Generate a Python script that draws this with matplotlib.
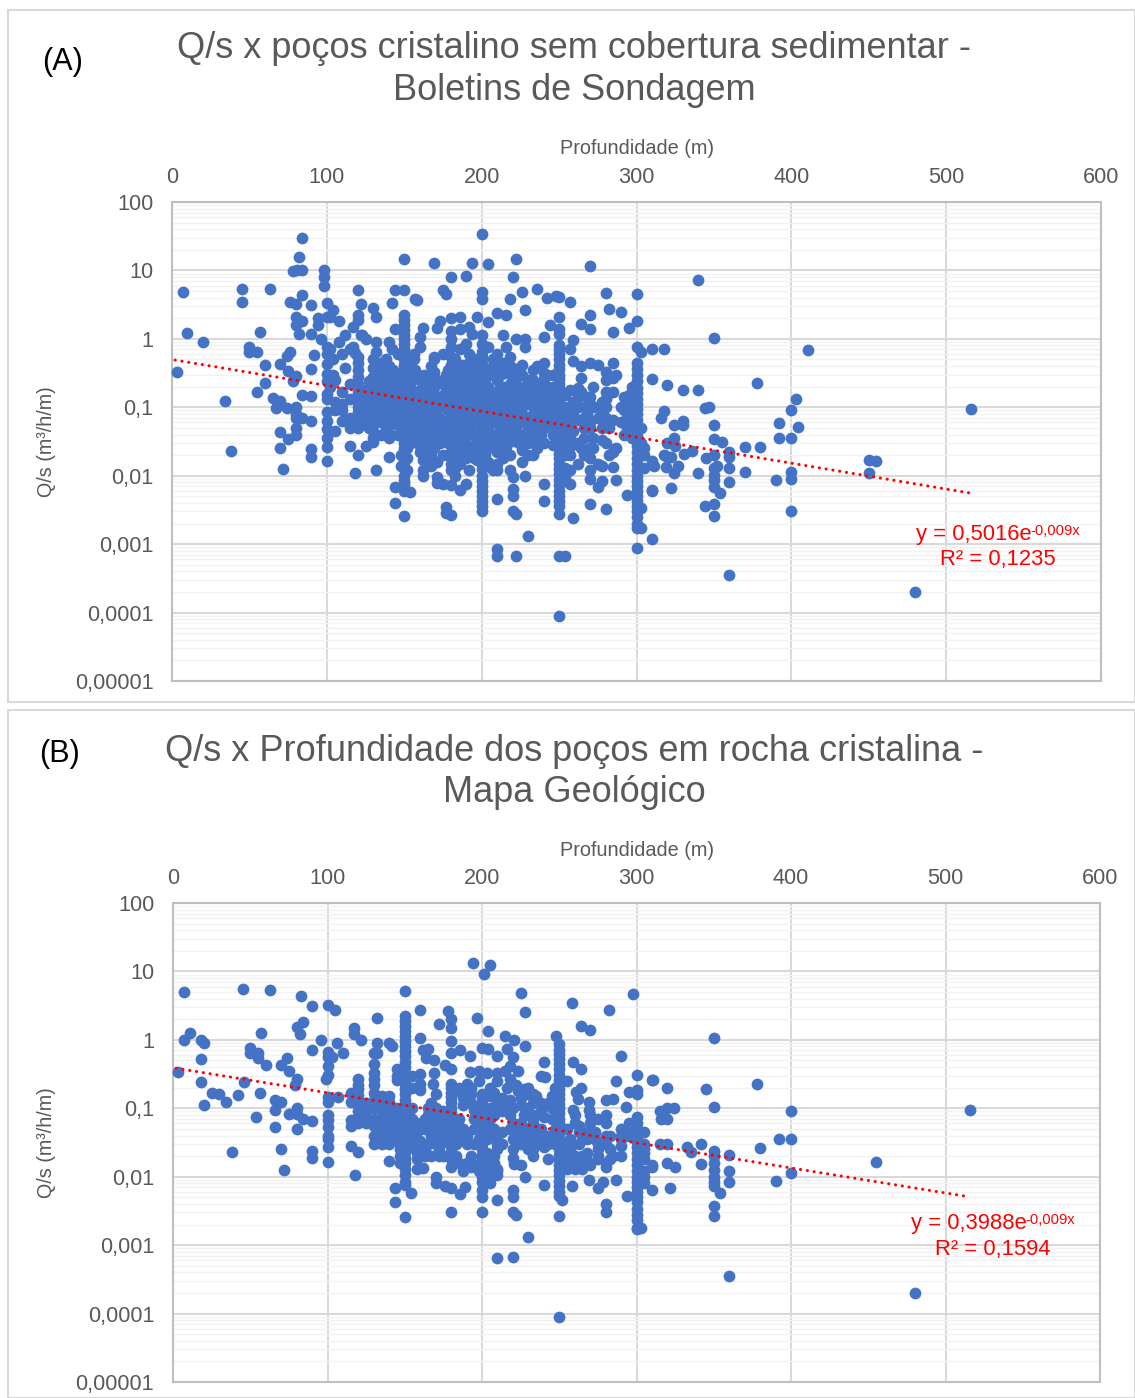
#!/usr/bin/python
# -*- coding: utf-8 -*-
"""Q/s x profundidade, two scatter panels on a log axis"""
import matplotlib
matplotlib.use('Agg')
import matplotlib.pyplot as plt
from matplotlib.patches import Rectangle
from matplotlib.ticker import FixedLocator, FixedFormatter, NullFormatter

W, H = 1135, 1398

# values: (depth, [Q/s at that depth])
wells_a = [
    (3, [.33]), (7, [4.9]), (10, [1.2]), (20, [.91]), (34, [.124]), (38, [.023]), (45, [5.4, 3.4]),
    (50, [.76, .64]), (55, [.65, .17]), (57, [1.25]), (60, [.42, .23]), (63, [5.4]), (65, [.137]),
    (67, [.098]), (70, [.43, .123, .043, .025]), (72, [.0125]), (74, [.56, .098]), (76, [.64, 3.4]),
    (75, [.34, .034]), (78, [.245, 9.7]), (80, [3.2, 2.08, 1.57, .29, .1, .08, .07, .05, .039]),
    (82, [15.8, 1.18]), (84, [30, 4.4, 10, 1.8, .15, .07]), (81, [10.2]), (90, [3.1, 1.18, .36, .148, .064, .0245, .0186]),
    (92, [.59]), (94, [2, 1.6]), (96, [1]), (98, [10, 8, 6]),
    (100, [3.3, 2.1, .75, .6, .43, .31, .24, .155, .13, .085, .064, .048, .036, .026, .0165]),
    (102, [2.1, .7, .2]), (104, [2.65, .51, .3]), (105, [.12, .09, .045, .25]), (108, [1.85, .9]),
    (110, [.6, .17, .11, .09, .063]), (112, [1.12, .37, .065]), (115, [.22, .13, .07, .05, .027, .7]),
    (117, [1.5, .75]), (118, [.011, .62]),
    (120, [5.1, 2.2, 1.9, .55, .45, .35, .28, .22, .17, .14, .12, .1, .085, .07, .06, .05, .02]),
    (122, [3.2, 1.15]), (123, [1.15]), (125, [1, .18, .14, .11, .09, .07, .06, .027]), (127, [.24, .16, .08, .05]),
    (130, [2.85, .5, .38, .28, .2, .15, .12, .09, .07, .055, .045, .036, .031]), (132, [2.1, .91, .012, .65]),
    (135, [.45, .33, .25, .18, .13, .1, .08, .06, .04]), (138, [.5, .2, .15, .11, .07, .05]),
    (140, [.9, .4, .3, .24, .19, .15, .12, .09, .07, .055, .042, .035, .019]),
    (142, [3.3, .7]), (143, [.35, .25, .13, .09, .065]), (144, [5.1, 1.4, .0069, .004]), (146, [.6, .3, .22, .16, .11, .08, .055, .04]),
    (148, [.17, .13, .09, .06, .045, .02, .014]),
    (150, [14.7, 5.1, 2.2, 1.9, 1.6, 1.35, 1.15, 1, .85, .72, .6, .5, .42, .35, .3, .25, .21, .18, .15, .12, .1, .085, .07, .06,
           .05, .042, .035, .03, .025, .02, .016, .013, .01, .0085, .0075, .006, .0026]),
    (152, [.4, .27, .19, .14, .1, .07, .05, .035, .025, .018, .012]), (154, [.0058, .45, .33, .22, .16, .12, .09, .07, .05, .038, .03]),
    (156, [.6, .5, .12, .09, .065, .045]), (157, [3.8, .35, .27, .16]), (158, [3.7, .055, .04, .03]),
    (160, [1.06, .75, .25, .18, .13, .1, .075, .055, .04, .022]), (162, [1.45, .017, .012, .01]),
    (163, [.3, .2, .14, .1, .075, .05, .035, .025, .018]), (165, [.21, .16, .12, .09, .065, .05, .03]),
    (167, [.4, .28, .18, .13, .09, .06, .04, .03, .02, .014]),
    (169, [13, .55, .5, .33, .2, .15, .11, .08, .06, .045, .035, .025]), (171, [1.45, .25, .12, .016, .0095, .0078]),
    (173, [1.8, .1, .07, .05, .03]), (175, [5.2, .6, .22, .15, .04, .02, .0075]), (177, [4.5, .3, .0035, .0029]),
    (178, [.35, .17, .12, .09, .06, .04, .03, .02]),
    (180, [8.1, 2, 1.3, 1, .75, .55, .42, .32, .25, .19, .14, .11, .09, .07, .055, .045, .035, .028, .022, .015, .012, .0072, .0027]),
    (183, [.5, .3, .2, .15, .11, .08, .06, .045, .03, .02, .013, .01]),
    (186, [2.1, 1.4, .7, .4, .3, .22, .16, .12, .09, .07, .05, .035, .022, .015, .0062]), (188, [.42, .26, .1, .06, .04, .025]),
    (190, [8.4, .85, .35, .25, .18, .13, .1, .08, .05, .03, .018, .0075]), (192, [1.5, .6, .45, .042, .025, .012]),
    (194, [13, 1.18, .33, .2, .14, .1, .07, .055]), (195, [.5, .22, .16, .09, .065, .04, .025, .018]),
    (197, [2.1, .4, .28, .16, .12, .08, .06, .03, .017]),
    (200, [34, 4.8, 3.8, 1.12, .85, .65, .55, .45, .37, .3, .25, .21, .17, .14, .12, .1, .085, .07, .06, .05, .042, .036, .03, .025,
           .021, .018, .015, .0125, .01, .0085, .007, .006, .005, .0042, .0036, .003]),
    (202, [.35, .26, .15, .11, .08, .055, .04, .03, .02]),
    (204, [12.5, 1.75, .75, .3, .2, .15, .1, .07, .05, .025, .016]), (207, [.5, .4, .12, .09, .06, .04, .03, .012]),
    (210, [2.4, .6, .35, .25, .17, .08, .035, .022, .015, .012, .0045, .00085, .00068]), (212, [.3, .2, .14, .1, .07, .05, .035, .025]),
    (214, [1.15, .45, .2, .14, .1, .07, .05, .03, .018]),
    (216, [2.2, .75, .32, .11, .08, .04, .026]), (218, [3.8, .55, .4, .22, .16, .06, .02, .012]),
    (220, [8.1, .38, .28, .19, .13, .09, .045, .032, .0095, .0063, .005, .003]), (222, [14.6, 1, .22, .12, .07, .05, .0028, .00068]),
    (224, [.3, .2, .14, .09, .06, .04, .03]),
    (226, [4.9, .42, .3, .16, .1, .08, .04, .024, .016]), (228, [2.6, 1, .75, .2, .13, .06, .035, .0098]),
    (230, [.25, .18, .11, .07, .05, .03, .02, .0013]), (233, [.35, .25, .16, .11, .08, .05, .035, .02]),
    (236, [5.3, .4, .22, .14, .09, .06, .04, .025]), (238, [.2, .13, .09, .06, .04, .03]),
    (240, [1.06, .45, .32, .26, .17, .1, .075, .05, .03, .0075, .0042]), (242, [3.9, .3, .2, .12, .08]), (244, [1.57, .15, .1, .065]),
    (246, [.3, .2, .12, .08, .055, .04, .028]), (248, [4.3, .11, .085]),
    (250, [4.1, 2.1, 1.4, 1.18, .8, .7, .6, .5, .42, .36, .3, .26, .22, .19, .16, .135, .115, .1, .085, .07, .06, .05, .042, .036, .03,
           .025, .021, .018, .015, .0125, .0105, .0088, .0073, .006, .005, .0042, .0036, .0028, .00068, .00009]),
    (252, [.1, .07, .05, .03, .02]),
    (254, [.00068, .15, .1, .07, .05, .035, .02, .013, .01]), (257, [3.4, .7, .18, .09, .06, .035, .026, .02, .012, .0075]),
    (259, [.95, .47, .12, .08, .045, .0024]), (262, [.19, .14, .1, .065, .03, .015]), (264, [1.65, .4, .27, .17, .025]),
    (266, [.1, .07, .05, .035, .02]), (268, [.14, .1, .08]), (270, [11.8, 2.2, 1.4, .45, .14, .11, .06, .05, .025, .018, .012, .009, .0038]),
    (272, [.2, .1, .035, .025]),
    (275, [.42, .1, .07, .015, .0068]), (278, [.12, .08, .05, .033, .014, .0085]), (280, [4.7, .33, .25, .17, .13, .1, .07, .03, .0033]),
    (282, [2.75, .16, .05, .02]), (285, [1.25, .45, .27, .17, .065, .022, .0135]), (287, [.3, .025, .0088]), (290, [2.45, .1, .06]),
    (292, [.14, .09, .06, .04]), (294, [.1, .07, .05, .0052]), (295, [1.45, .15]), (297, [.2, .12, .08, .055, .035]),
    (300, [4.5, 1.85, .75, .45, .36, .3, .24, .19, .16, .13, .11, .095, .08, .065, .055, .045, .038, .032, .027, .022, .018, .015, .012,
           .01, .0085, .007, .006, .005, .0042, .0036, .003, .0025, .002, .0017, .00088]),
    (303, [.65, .0017, .0034, .05, .03]), (305, [.02, .013, .025]), (310, [.7, .26, .0165, .0062, .006, .0012]), (311, [.0138]),
    (316, [.069]), (318, [.7, .087, .02]), (319, [.0195, .0135]), (320, [.21, .03]), (322, [.019, .0067]), (324, [.055, .035, .011]),
    (325, [.027]), (327, [.014]), (330, [.18, .064, .055]), (331, [.021]), (336, [.023]), (340, [7.2, .178, .011]),
    (344, [.097, .0036]), (345, [.018]), (347, [.102]), (350, [1.02, .055, .034, .02, .0128, .0102, .0086, .0069, .0039, .0026]),
    (352, [.0138]), (354, [.0056]), (355, [.031]), (360, [.022, .0186, .0128, .008, .00035]), (370, [.026, .0115]), (378, [.23]),
    (380, [.026]), (390, [.0086]), (392, [.059, .035]), (400, [.091, .035, .0115, .009, .003]), (403, [.13]), (404, [.052]),
    (411, [.68]), (450, [.017, .011]), (455, [.0164]), (480, [.0002]), (516, [.093]),
]
wells_b = [
    (3, [.34]), (7, [5, .98]), (11, [1.25]), (18, [1, .52, .24]), (20, [.9, .11]), (25, [.17]), (30, [.16]), (34, [.125]), (38, [.023]),
    (42, [.157]), (45, [5.5]), (46, [.24]), (50, [.75, .65]), (54, [.074]), (55, [.64, .54]), (56, [.17]), (57, [1.28]), (60, [.43]),
    (63, [5.4]), (66, [.13, .095, .054]), (70, [.43, .125, .025]), (72, [.0125]), (74, [.55]), (75, [.35, .082]), (79, [.22]),
    (80, [1.55, .27, .1, .082, .049]), (82, [1.2]), (83, [4.4]), (84, [1.8, .069]), (90, [3.1, .71, .066, .024, .0185]), (96, [1]),
    (99, [.27]), (100, [3.2, .67, .57, .41, .31, .148, .125, .08, .068, .054, .04, .036, .027, .0165]), (103, [.57]), (105, [2.75]),
    (106, [.9]), (107, [.148]), (110, [.65]), (115, [.165, .125, .068, .055, .028]), (117, [1.5, 1.2]), (118, [.0105]),
    (120, [.27, .22, .19, .155, .13, .11, .09, .075, .06, .023]), (122, [1]), (125, [.12, .09, .07, .06]),
    (130, [.65, .45, .33, .27, .22, .17, .13, .1, .07, .055, .04, .03]), (132, [2.1, .9, .64]), (135, [.07, .05, .15, .12, .09, .035, .03]),
    (138, [.05, .04]), (140, [.9, .15, .125, .1, .085, .07, .05, .038, .03, .017]), (142, [.8]), (143, [.06, .045]), (144, [.0068, .0042]),
    (145, [.38, .3, .26, .1, .08, .05, .033]), (147, [.06, .045, .035, .025, .02, .016]),
    (150, [5.2, 2.2, 1.9, 1.6, 1.35, 1.15, .95, .8, .68, .58, .48, .4, .33, .27, .23, .19, .16, .13, .11, .09, .075, .06, .05, .04, .034,
           .028, .023, .019, .016, .013, .0105, .0085, .0075, .0026]),
    (154, [.0058]), (155, [.3, .2, .1, .07, .05, .04, .03, .027]), (158, [.06, .045, .035, .022, .018, .013]),
    (160, [2.7, 1.08, .32, .23, .185, .05, .033, .028]), (162, [.72, .0135]), (163, [.07, .05, .025, .02]),
    (164, [.54]), (165, [.73, .1, .08, .06, .03]), (167, [.12, .06, .05, .04, .02]), (168, [.23]), (169, [.51, .33]),
    (170, [.16, .1, .08, .065, .052, .042, .03, .0098, .008]), (172, [1.7, .08, .06, .045, .035, .025, .02]),
    (175, [.09, .07, .05, .04, .032, .02]), (176, [.43, .0073]), (178, [2.6, .06, .045, .035]),
    (180, [2, 1.5, .97, .64, .38, .23, .2, .17, .145, .125, .1, .085, .07, .06, .05, .042, .035, .028, .023, .018, .014, .0069, .003]),
    (183, [.055, .04, .03, .02]), (185, [.2, .18, .07, .05, .016]), (186, [.7, .0056]), (188, [.14, .11, .05, .04, .012]), (189, [.0071]),
    (190, [.23, .19, .14, .04, .03, .016]), (192, [.59, .34]), (193, [.2, .16, .12, .02, .014]),
    (194, [13.3]), (195, [.095, .07, .05, .03, .015]), (197, [2.1]), (198, [.35, .25, .08, .05, .035, .012]),
    (200, [.75, .16, .135, .115, .1, .085, .07, .06, .05, .042, .036, .03, .025, .021, .018, .015, .0125, .01, .0085, .0065, .0051, .003]),
    (201, [9.3]), (203, [.33, .035, .022, .018, .014]), (204, [1.37, .74]), (205, [12.4, .2, .15, .1, .07, .05, .01, .008]),
    (208, [.17, .08, .05, .02, .016]), (210, [.59, .33, .25, .12, .09, .04, .03, .025, .013, .012, .0105, .0046, .00065]),
    (213, [.14, .09, .045, .03]), (215, [1.15, .35, .11]), (216, [.73, .2]),
    (218, [.41, .27, .13, .08, .05]), (220, [.57, .1, .06, .035, .025, .0185, .0064, .005, .003, .00068]), (221, [1, .0155]), (222, [.22, .0028]),
    (223, [.35, .18, .05, .04]), (225, [4.8, .14, .11, .06, .03, .015]), (227, [.19, .08, .045, .035]), (228, [2.55, .8, .0098]),
    (230, [.2, .16, .1, .08, .05, .03, .025, .0013]), (233, [.16, .12, .06, .04, .025, .02]),
    (235, [.15, .08, .05, .03]), (238, [.3, .12, .09, .05, .035]), (240, [.47, .075, .03, .027, .0075]), (241, [.29]),
    (243, [.12, .04, .03, .018]), (245, [.07, .1, .15]), (247, [.2, .05, .03]), (248, [1.15]),
    (250, [.87, .72, .62, .52, .44, .37, .31, .26, .22, .19, .16, .135, .115, .1, .085, .07, .06, .05, .042, .036, .03, .025, .021, .018,
           .015, .0125, .0105, .0088, .0073, .006, .0052, .0027, .00009]),
    (252, [.0045]), (255, [.25, .05, .03, .02, .015, .013]), (257, [.035, .025, .018]), (258, [3.4, .0073]), (259, [.48, .095]),
    (260, [.08, .06, .02, .016, .013]), (261, [.175]), (262, [.135]), (263, [.055, .045, .03]), (264, [1.6, .38, .2]),
    (265, [.04, .02, .014, .013]), (268, [.045, .035, .022]), (269, [.125, .095, .009]), (270, [1.4, .08, .06, .015, .016]), (273, [.045, .035]),
    (275, [.07, .03, .025, .02, .018, .0068]), (278, [.0083]), (280, [.13, .08, .06, .04, .03, .016, .014, .004, .0031]),
    (282, [2.75]), (283, [.04, .025, .018]), (285, [.135, .02]), (287, [.25, .009]), (290, [.59, .05, .04, .035, .028, .02]), (293, [.105]),
    (294, [.0052]), (295, [.175, .06, .05, .04]), (298, [4.7]),
    (300, [.31, .185, .16, .075, .06, .05, .043, .038, .032, .027, .022, .018, .015, .012, .01, .0085, .007, .006, .005, .0042, .0034,
           .0028, .0023, .0018, .0017]),
    (303, [.0018]), (305, [.045, .03, .018, .025, .022, .012, .01, .008]), (310, [.26, .015, .014, .0063]), (311, [.26]), (315, [.09, .03]), (316, [.07]),
    (320, [.2, .03, .016, .1, .07]), (322, [.0068]), (324, [.1]), (325, [.014]), (333, [.027]), (335, [.023]), (342, [.03, .0155]),
    (345, [.19]), (350, [1.05, .105, .024, .02, .016, .0125, .01, .0085, .0073, .0037, .0027]), (354, [.0057]),
    (360, [.021, .012, .0085, .00035]), (378, [.23]), (380, [.026]), (390, [.0087]), (392, [.035]), (400, [.09, .035, .0115]),
    (455, [.0165]), (480, [.0002]), (516, [.093]),
]

# trend lines, ends
trend_x_a = [2, 515]
trend_y_a = [.49, .0056]
trend_x_b = [2, 515]
trend_y_b = [.385, .0051]

x_ticks = [0, 100, 200, 300, 400, 500, 600]
y_ticks = [100, 10, 1, .1, .01, .001, .0001, .00001]
y_tick_labels = ['100', '10', '1', '0,1', '0,01', '0,001', '0,0001', '0,00001']
y_minor = [m * 10.0 ** e for e in range(-5, 2) for m in range(2, 10)]

GREY = '#595959'
plt.rcParams['font.family'] = ['Liberation Sans', 'DejaVu Sans']


def fig_xy(px, py):
    return px / W, 1 - py / H


def flatten(wells):
    xs, ys = [], []
    for depth, values in wells:
        xs += [depth] * len(values)
        ys += values
    return xs, ys


def draw_panel(fig, frame, box, wells, trend_x, trend_y, letter, letter_xy, titles, title_x, title_ys, label_y, ylabel_xy, eq_xy, eq, r2):
    # panel frame
    fig.add_artist(Rectangle(fig_xy(frame[0], frame[3]), (frame[2] - frame[0]) / W, (frame[3] - frame[1]) / H,
                             transform=fig.transFigure, fill=False, edgecolor='#d9d9d9', linewidth=1.5))
    left, top, right, bottom = box
    ax = fig.add_axes([left / W, 1 - bottom / H, (right - left) / W, (bottom - top) / H])
    ax.set_yscale('log')
    ax.set_xlim(0, 600)
    ax.set_ylim(.00001, 100)
    ax.xaxis.tick_top()
    ax.xaxis.set_major_locator(FixedLocator(x_ticks))
    ax.yaxis.set_major_locator(FixedLocator(y_ticks))
    ax.yaxis.set_major_formatter(FixedFormatter(y_tick_labels))
    ax.yaxis.set_minor_locator(FixedLocator(y_minor))
    ax.yaxis.set_minor_formatter(NullFormatter())
    ax.tick_params(axis='both', which='both', length=0, labelsize=15.6, labelcolor=GREY)
    ax.tick_params(axis='x', pad=10)
    ax.tick_params(axis='y', pad=13.5)
    ax.grid(True, which='major', color='#d9d9d9', linewidth=1.5)
    ax.grid(True, which='minor', axis='y', color='#f2f2f2', linewidth=1)
    ax.set_axisbelow(True)
    for side in ax.spines:
        ax.spines[side].set_color('#bfbfbf')
        ax.spines[side].set_linewidth(1.5)

    xs, ys = flatten(wells)
    ax.scatter(xs, ys, s=72, color='#4472C4', linewidths=0, zorder=3, clip_on=False)
    ax.plot(trend_x, trend_y, color='#FF0000', linewidth=2.2, linestyle=(0, (0.05, 2.2)),
            dash_capstyle='round', zorder=4)

    fig.text(*fig_xy(*letter_xy), letter, fontsize=22, color='black', ha='left', va='center')
    for line, y in zip(titles, title_ys):
        fig.text(*fig_xy(title_x, y), line, fontsize=26, color=GREY, ha='center', va='center')
    fig.text(*fig_xy((left + right) / 2 + 1, label_y), 'Profundidade (m)', fontsize=14.3, color=GREY, ha='center', va='center')
    fig.text(*fig_xy(*ylabel_xy), 'Q/s (m³/h/m)', fontsize=14.2, color=GREY, rotation=90, ha='center', va='center')

    # equation of the trend line
    fig.text(*fig_xy(eq_xy[0], eq_xy[1]), eq[0], fontsize=15.8, color='#FF0000', ha='left', va='center')
    fig.text(*fig_xy(eq_xy[0] + 114, eq_xy[1] - 4), eq[1], fontsize=10.6, color='#FF0000', ha='left', va='center')
    fig.text(*fig_xy(eq_xy[0] + 24, eq_xy[1] + 25), r2, fontsize=15.8, color='#FF0000', ha='left', va='center')
    return ax


fig = plt.figure(figsize=(W / 100, H / 100), dpi=100)

draw_panel(fig, (8, 10, 1135, 702), (172, 202, 1101, 681), wells_a, trend_x_a, trend_y_a,
           '(A)', (42, 62), ['Q/s x poços cristalino sem cobertura sedimentar -', 'Boletins de Sondagem'],
           574, (49, 91), 148, (46, 442), (916, 535), ('y = 0,5016e', '-0,009x'), 'R² = 0,1235')
draw_panel(fig, (8, 710, 1135, 1398), (173, 903, 1100, 1382), wells_b, trend_x_b, trend_y_b,
           '(B)', (39, 754), ['Q/s x Profundidade dos poços em rocha cristalina -', 'Mapa Geológico'],
           574, (751, 793), 850, (46, 1143), (911, 1224), ('y = 0,3988e', '-0,009x'), 'R² = 0,1594')

plt.savefig('out.png', dpi=100)
plt.close()
